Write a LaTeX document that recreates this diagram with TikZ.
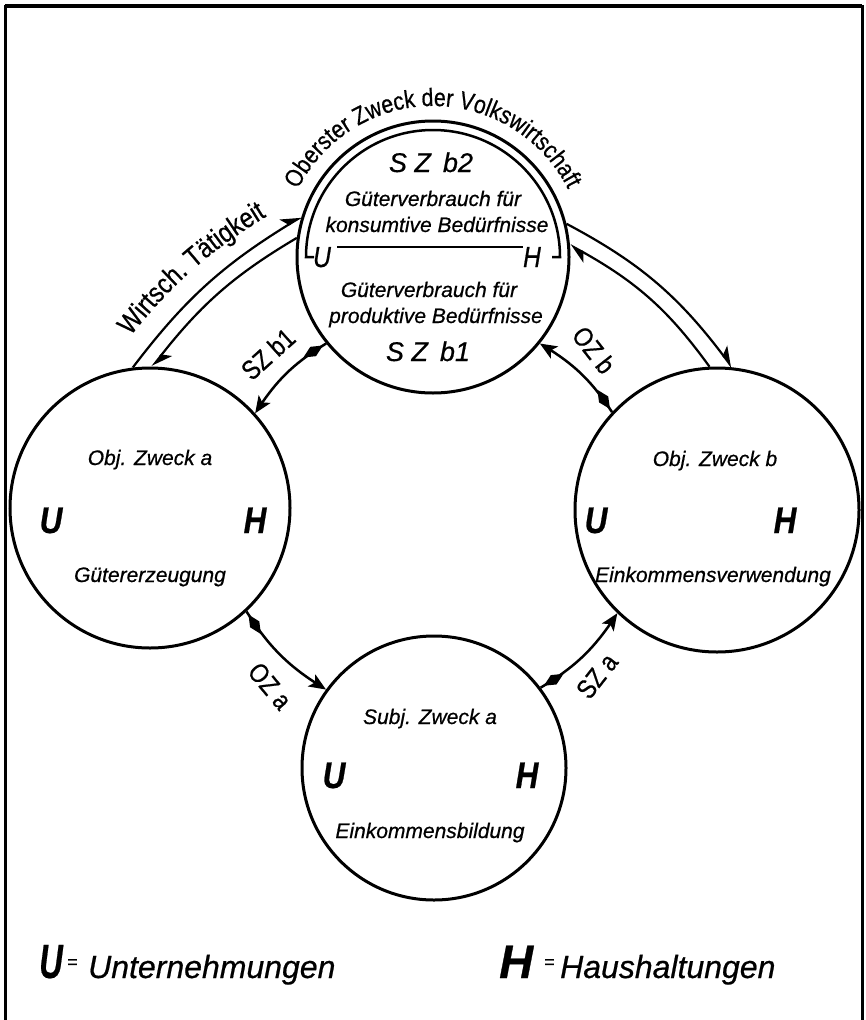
\documentclass[tikz,border=0pt]{standalone}
\usepackage{fontspec}
\setmainfont{Liberation Sans}[FakeBold=0.6]
\newfontfamily\narrowfont{Liberation Sans}[FakeStretch=0.85,FakeBold=0.6]
\newfontfamily\condfont{Liberation Sans}[FakeStretch=0.68,FakeBold=0.4]
\usetikzlibrary{arrows.meta,decorations.text,shapes.geometric,bending}
\begin{document}
\begin{tikzpicture}[x=1pt,y=1pt,
  circ/.style={circle,draw,line width=3pt,inner sep=0pt},
  ctext/.style={font=\itshape\fontsize{21}{24}\selectfont,anchor=base,inner sep=0pt},
  title/.style={font=\itshape\fontsize{27}{30}\selectfont,anchor=base,inner sep=0pt},
  uh/.style={font=\narrowfont\bfseries\itshape\fontsize{37}{37}\selectfont,anchor=base,inner sep=0pt},
  uhs/.style={font=\narrowfont\itshape\fontsize{29}{29}\selectfont,anchor=base,inner sep=0pt},
  lab/.style={font=\narrowfont\fontsize{27}{27}\selectfont,inner sep=0pt},
  conn/.style={line width=2.5pt,-{Stealth[length=17pt,width=14pt,inset=4pt]}},
  tail/.style={diamond,fill=black,draw=none,inner sep=0pt,minimum width=24pt,minimum height=12pt,
    sloped,allow upside down,pos=0,anchor=west,xshift=2pt},
  dbl/.style={line width=2.2pt,-{Stealth[harpoon,length=18pt,width=18pt,inset=5pt]}}
]
\useasboundingbox (0,0) rectangle (866,-1020);
% frame
\draw[line width=3pt] (5,-1030) -- (5,-6) -- (862,-6) -- (862,-1030);
\draw[line width=4pt] (5,-6) -- (862,-6);

% circles
\node[circ,minimum size=272pt] (T) at (433,-257) {};
\node[circ,minimum size=280pt] (L) at (150,-508) {};
\node[circ,minimum size=284pt] (R) at (717,-510) {};
\node[circ,minimum size=264pt] (B) at (434,-768) {};

% inner arc of top circle
\draw[line width=2.5pt] (314,-257) -- (306,-257) arc[start angle=180,end angle=0,radius=127] -- (552,-257);
\node[uhs] (tu) at (322,-267) {U};
\node[uhs] (th) at (532,-267) {H};
\draw[line width=2.2pt] (tu.east) ++(6,10) coordinate (tl) -- (th.west |- tl) coordinate (tr);

% top circle texts
\node[title] (tb2) at (431,-172) {S Z\, b2};
\node[ctext] (t1) at (433,-206) {Güterverbrauch für};
\node[ctext] (t2) at (437,-232) {konsumtive Bedürfnisse};
\node[ctext] (t3) at (429,-297) {Güterverbrauch für};
\node[ctext] (t4) at (436,-323) {produktive Bedürfnisse};
\node[title] (tb1) at (428,-361) {S Z\, b1};

% left circle
\node[ctext] (l1) at (150,-465) {Obj. Zweck a};
\node[uh] (lu) at (51,-533) {U};
\node[uh] (lh) at (255,-533) {H};
\node[ctext] (l2) at (150,-582) {Gütererzeugung};
% right circle
\node[ctext] (r1) at (715,-466) {Obj. Zweck b};
\node[uh] (ru) at (596,-533) {U};
\node[uh] (rh) at (785,-533) {H};
\node[ctext] (r2) at (713,-582) {Einkommensverwendung};
% bottom circle
\node[ctext] (b1) at (430,-724) {Subj. Zweck a};
\node[uh] (bu) at (334,-788) {U};
\node[uh] (bh) at (527,-788) {H};
\node[ctext] (b2) at (430,-838) {Einkommensbildung};

% connectors
\draw[conn] (T.219) to[bend right=13] node[tail] (k1) {} (L.42);
\draw[conn] (L.313) to[bend right=13] node[tail] (k2) {} (B.144);
\draw[conn] (B.37) to[bend right=13] node[tail] (k3) {} (R.226);
\draw[conn] (R.137) to[bend right=13] node[tail] (k4) {} (T.321);

\node[lab,rotate=42] (lsb1) at (268,-354) {SZ b1};
\node[lab,rotate=-52] (lozb) at (594,-350) {OZ b};
\node[lab,rotate=-50] (loza) at (270,-686) {OZ a};
\node[lab,rotate=52] (lsza) at (597,-676) {SZ a};

% double arrows
\draw[dbl] (L.97) to[bend left=11] (T.163);
\draw[dbl] (T.172) to[bend right=11] (L.89);
\draw[dbl] (T.14) to[bend left=13] (R.84);
\draw[dbl] (R.93) to[bend right=13] (T.5);

% arc texts
\path[decorate,decoration={text along path,text align=center,
  text={|\narrowfont\fontsize{25}{25}\selectfont|Oberster Zweck der Volkswirtschaft}}]
  (433,-257) ++(162:151) arc[start angle=162,end angle=18,radius=151];
\coordinate (wa) at (118,-352);
\coordinate (wb) at (284,-206);
\path[decorate,decoration={text along path,text align=center,
  text={|\narrowfont\fontsize{28}{28}\selectfont|Wirtsch. Tätigkeit}}]
  (wa) to[bend left=11] (wb);

% legend
\node[font=\condfont\bfseries\itshape\fontsize{48}{48}\selectfont,anchor=base west,inner sep=0pt] (gu) at (39,-978) {U};
\node[font=\fontsize{18}{18}\selectfont,anchor=base west,inner sep=0pt] (gue) at (67,-968) {=};
\node[font=\itshape\fontsize{32}{32}\selectfont,anchor=base west,inner sep=0pt] (gut) at (88,-978) {Unternehmungen};
\node[font=\bfseries\itshape\fontsize{47}{47}\selectfont,anchor=base west,inner sep=0pt] (gh) at (499,-978) {H};
\node[font=\fontsize{18}{18}\selectfont,anchor=base west,inner sep=0pt] (ghe) at (544,-968) {=};
\node[font=\itshape\fontsize{32}{32}\selectfont,anchor=base west,inner sep=0pt] (ght) at (560,-978) {Haushaltungen};
\end{tikzpicture}
\end{document}
